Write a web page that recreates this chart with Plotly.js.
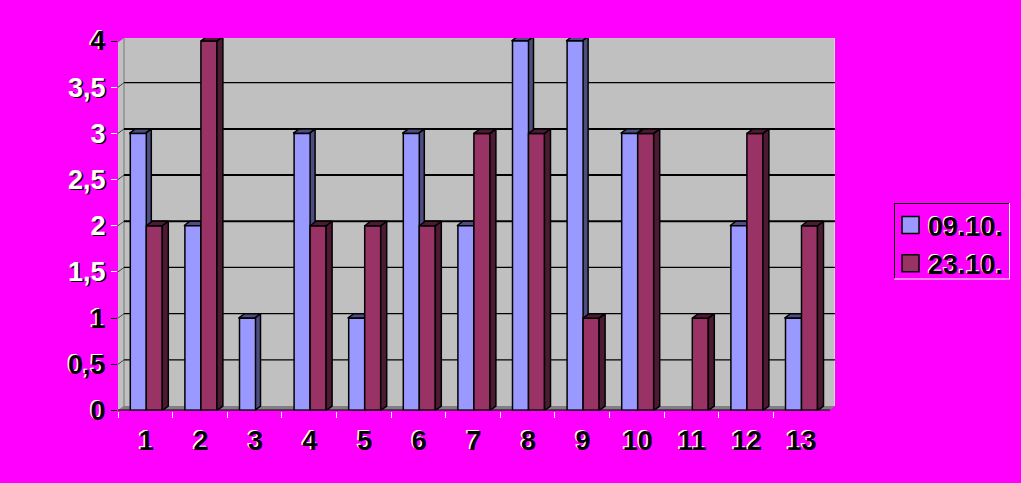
<!DOCTYPE html>
<html><head><meta charset="utf-8">
<script src="https://cdn.plot.ly/plotly-3.0.1.min.js"></script>
<style>html,body{margin:0;padding:0;background:#ff00ff}</style></head>
<body><div id="c" style="width:1021px;height:483px"></div>
<script>
const categories=[1,2,3,4,5,6,7,8,9,10,11,12,13];
const series1=[3,2,1,3,1,3,2,4,4,3,0,2,1];
const series2=[2,4,0,2,2,2,3,3,1,3,1,3,2];
const names=['09.10.','23.10.'];
const yTicks=[0,0.5,1,1.5,2,2.5,3,3.5,4];
const blackTicks=[0,0.5,1,4];
const blackLabels=['0','0,5','1','4'];
const whiteTicks=[1.5,2,2.5,3,3.5];
const whiteLabels=['1,5','2','2,5','3','3,5'];
const heavyGrid=[2,2.5,3];

const W=1021,H=483;
const L=118,R=835,B=410.5,T=38;
const depthX=6,depthY=4.5;
const catW=54.6, unit=(410.5-41)/4;
const dx=depthX/catW, dy=depthY/unit;
const xMin=0.5, xMax=0.5+(R-L)/catW;
const yMin=0, yMax=(B-T)/unit;
const barW=16/catW, nudge=1/catW;

function poly(xs,ys,color,xa,ya,lw){
  return {type:'scatter',mode:'lines',x:xs,y:ys,fill:'toself',fillcolor:color,
    line:{color:'#000',width:lw===undefined?1.5:lw},xaxis:xa,yaxis:ya,showlegend:false,hoverinfo:'skip'};
}
function line(xs,ys,w,color,xa,ya){
  return {type:'scatter',mode:'lines',x:xs,y:ys,line:{color:color,width:w},xaxis:xa,yaxis:ya,showlegend:false,hoverinfo:'skip'};
}
function faces(vals,left,sideCol,topCol,xa,ya){
  const out=[];
  vals.forEach((v,i)=>{
    if(!v)return;
    const c=categories[i];
    const x0=c+left, x1=x0+barW;
    out.push(poly([x1,x1+dx,x1+dx,x1,x1],[0,dy,v+dy,v,0],sideCol,xa,ya));
    out.push(poly([x0,x0+dx,x1+dx,x1,x0],[v,v+dy,v+dy,v,v],topCol,xa,ya));
  });
  return out;
}
const data=[];
data.push(poly([xMin+dx,xMax,xMax,xMin+dx,xMin+dx],[dy,dy,yMax,yMax,dy],'#c0c0c0','x','y',0));
data.push(poly([xMin,xMin+dx,xMin+dx,xMin,xMin],[0,dy,yMax,yMax-dy,0],'#c0c0c0','x','y',0));
data.push(poly([xMin,xMin+dx,xMax,xMax-dx,xMin],[0,dy,dy,0,0],'#808080','x','y',0));
data.push(line([xMin+dx,xMin+dx],[dy,yMax],1.5,'#909090','x','y'));
data.push(line([xMax,xMax],[dy,yMax],1.5,'#e8e8e8','x','y'));
yTicks.slice(1,-1).forEach(t=>{
  data.push(line([xMin+dx,xMax],[t+dy,t+dy],heavyGrid.includes(t)?2:1.2,'#000','x','y'));
  data.push(line([xMin,xMin+dx],[t,t+dy],1,'#404040','x','y'));
});
data.push(...faces(series1,-barW,'#4d4d80','#4d4d80','x2','y2'));
data.push({type:'bar',name:names[0],x:categories,y:series1.map(v=>v||null),offset:-barW,width:barW,
  marker:{color:'#9999ff',line:{color:'#000',width:1.5}},xaxis:'x3',yaxis:'y3',hoverinfo:'skip'});
data.push({type:'bar',name:names[1],x:categories,y:series2.map(v=>v||null),offset:0,width:barW,
  marker:{color:'#993366',line:{color:'#000',width:1.5}},xaxis:'x3',yaxis:'y3',hoverinfo:'skip'});
data.push(...faces(series2,0,'#4d1a33','#4d1a33','x3','y3'));
data.push(line([xMin-nudge,xMax-dx],[0,0],2,'#000','x3','y3'));

const FAM='Liberation Sans, Arial, sans-serif';
const whiteFont={family:FAM,size:27,color:'#fff',weight:700,shadow:'1.5px 1px 0 #000'};
const blackFont={family:FAM,size:27,color:'#000',weight:700,shadow:'-1.5px -1px 0 #fff'};
const base={range:[xMin,xMax],domain:[L/W,R/W],fixedrange:true,showgrid:false,zeroline:false};
const baseY={range:[yMin,yMax],domain:[1-B/H,1-T/H],fixedrange:true,showgrid:false,zeroline:false};
const layout={
  width:W,height:H,paper_bgcolor:'#ff00ff',plot_bgcolor:'rgba(0,0,0,0)',
  margin:{l:0,r:0,t:0,b:0},barmode:'overlay',showlegend:true,
  font:{family:FAM},
  xaxis:{...base,tickmode:'array',tickvals:categories.map(c=>c-0.5),ticktext:categories.map(()=>''),ticks:'outside',ticklen:6,tickcolor:'#fff',tickwidth:1,showline:false},
  yaxis:{...baseY,tickmode:'array',tickvals:blackTicks,ticktext:blackLabels,ticks:'outside',ticklen:6,tickcolor:'#000',tickwidth:1,tickfont:blackFont,ticklabelstandoff:0,showline:false},
  xaxis2:{...base,visible:false,overlaying:'x'},
  yaxis2:{...baseY,overlaying:'y',tickmode:'array',tickvals:whiteTicks,ticktext:whiteLabels,ticks:'outside',ticklen:6,tickcolor:'#fff',tickwidth:1,tickfont:whiteFont,ticklabelstandoff:0,showline:false},
  xaxis3:{...base,range:[xMin-nudge,xMax-nudge],overlaying:'x',anchor:'y3',side:'bottom',tickmode:'array',tickvals:categories,ticktext:categories.map(String),ticks:'',tickfont:blackFont,ticklabelstandoff:11},
  yaxis3:{...baseY,visible:false,overlaying:'y',anchor:'x3'},
  legend:{x:888/W,y:1-201/H,xanchor:'left',yanchor:'top',bgcolor:'rgba(0,0,0,0)',borderwidth:0,
    font:{family:FAM,size:27,color:'#000',weight:700,shadow:'-1px -1px 0 #fff'},itemclick:false,itemdoubleclick:false,tracegroupgap:0},
  shapes:[
    {type:'line',xref:'paper',yref:'paper',x0:894/W,x1:1009/W,y0:1-203.5/H,y1:1-203.5/H,line:{color:'#000',width:1}},
    {type:'line',xref:'paper',yref:'paper',x0:894.5/W,x1:894.5/W,y0:1-203/H,y1:1-279/H,line:{color:'#000',width:1}},
    {type:'line',xref:'paper',yref:'paper',x0:894/W,x1:1010/W,y0:1-279/H,y1:1-279/H,line:{color:'#fff',width:1}},
    {type:'line',xref:'paper',yref:'paper',x0:1009.5/W,x1:1009.5/W,y0:1-203/H,y1:1-279/H,line:{color:'#fff',width:1}}
  ]
};
Plotly.newPlot('c',data,layout,{displayModeBar:false,staticPlot:true}).then(()=>{
  document.querySelectorAll('.legend .legendbar path, .legend .legendpoints path').forEach(p=>{
    p.setAttribute('d','M11,8.5H-6V-8.5H11Z');
  });
});
</script></body></html>
